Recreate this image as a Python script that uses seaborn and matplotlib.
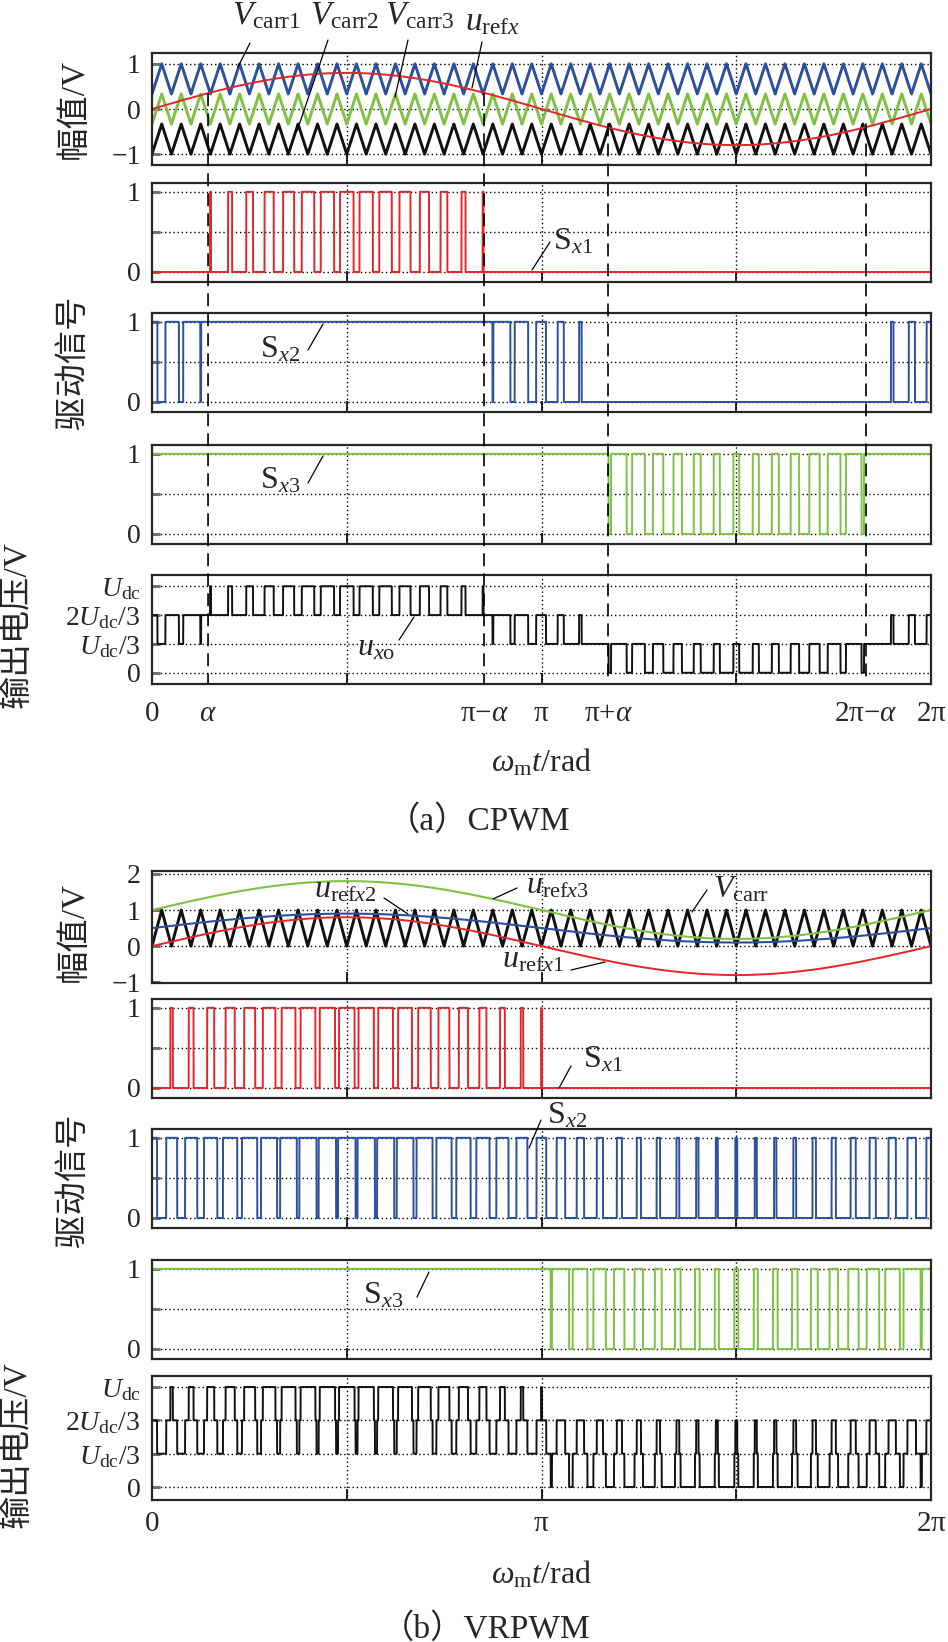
import numpy as np
import matplotlib
matplotlib.use("Agg")
import matplotlib.pyplot as plt
import seaborn as sns
from matplotlib.patches import ConnectionPatch
from matplotlib.lines import Line2D

# ---------------- data ----------------
carrier_periods = 40                      # carrier periods per fundamental period
ref_amplitude_a = 0.8                     # CPWM reference amplitude
carrier_bands_a = [(1/3, 1.0), (-1/3, 1/3), (-1.0, -1/3)]   # Vcarr1, Vcarr2, Vcarr3
ref_amplitudes_b = [0.8, 0.4, 0.8]        # urefx1, urefx2, urefx3
ref_offsets_b = [0.0, 0.5, 1.0]
carrier_band_b = (0.0, 1.0)               # Vcarr (VRPWM)

xtick_pos_a = [0.0, 0.452, 2.678, np.pi, 3.678, 5.759, 2 * np.pi]
xtick_labels_a = ["0", r"$\alpha$", r"$\mathrm{\pi}{-}\alpha$", r"$\mathrm{\pi}$",
                  r"$\mathrm{\pi}{+}\alpha$", r"$2\mathrm{\pi}{-}\alpha$", r"$2\mathrm{\pi}$"]
xtick_pos_b = [0.0, np.pi, 2 * np.pi]
xtick_labels_b = ["0", r"$\mathrm{\pi}$", r"$2\mathrm{\pi}$"]
dashed_pos_a = [0.452, 2.678, 3.678, 5.759]
dashed_start_a = [1/3, 1/3, -1/3, -1/3]

out_ticks = [0, 1/3, 2/3, 1]
out_labels = ["0", r"$U_{\mathrm{dc}}/3$", r"$2U_{\mathrm{dc}}/3$", r"$U_{\mathrm{dc}}$"]
sw_ticks = [0, 0.5, 1]
sw_labels = ["0", "", "1"]

RED, BLUE, GREEN, BLACK = "#e3262a", "#2c4f9e", "#7fc243", "#111111"

# ---------------- style ----------------
sns.set_theme(style="white")
plt.rcParams["font.family"] = ["Liberation Serif", "Noto Sans CJK SC", "DejaVu Sans"]
plt.rcParams["mathtext.fontset"] = "custom"
plt.rcParams["mathtext.rm"] = "Liberation Serif"
plt.rcParams["mathtext.it"] = "Liberation Serif:italic"
plt.rcParams["mathtext.bf"] = "Liberation Serif:bold"

W, H = 948, 1642
fig = plt.figure(figsize=(W / 100, H / 100), dpi=100)
fig.patch.set_facecolor("white")

def fxy(px, py):
    return px / W, 1 - py / H

def make_ax(top, bottom, left=152, right=931):
    return fig.add_axes([left / W, 1 - bottom / H, (right - left) / W, (bottom - top) / H])

t = np.linspace(0, 2 * np.pi, 30001)
frac = (t * carrier_periods / (2 * np.pi)) % 1.0
tri = 1 - 2 * np.abs(frac - 0.5)

def carrier(band):
    lo, hi = band
    return lo + (hi - lo) * tri

def line(ax, y, color, lw):
    sns.lineplot(x=t, y=y, ax=ax, color=color, linewidth=lw, estimator=None, sort=False)

def style_ax(ax, ylim, yticks, ylabels, grid_y):
    ax.set_xlim(0, 2 * np.pi)
    ax.set_ylim(*ylim)
    ax.set_xticks([np.pi / 2, np.pi, 3 * np.pi / 2])
    ax.set_xticklabels([])
    ax.set_yticks(yticks)
    ax.set_yticklabels(ylabels)
    ax.tick_params(axis="x", which="major", direction="in", length=8, width=1.2,
                   color="black", bottom=True, top=False)
    ax.tick_params(axis="y", direction="in", length=6, width=2.2, color="0.45",
                   left=True, right=False, labelsize=20, pad=8)
    for g in grid_y:
        ax.axhline(g, color="black", ls=(0, (1, 2)), lw=1.0, zorder=0.5)
    for g in [np.pi / 2, np.pi, 3 * np.pi / 2]:
        ax.axvline(g, color="black", ls=(0, (1, 2)), lw=1.0, zorder=0.5)
    for s in ax.spines.values():
        s.set_color("0.15")
        s.set_linewidth(1.6)
    ax.set_xlabel("")
    ax.set_ylabel("")

def bottom_labels(ax, pos, labels, pad):
    ax.xaxis.remove_overlapping_locs = False
    ax.set_xticks(pos, minor=True)
    ax.set_xticklabels(labels, minor=True)
    ax.tick_params(axis="x", which="minor", length=0, labelsize=21, pad=pad)

# ================= (a) CPWM =================
ref_a = ref_amplitude_a * np.sin(t)
carr_a = [carrier(b) for b in carrier_bands_a]
S1a = (ref_a > carr_a[0]).astype(float)
S2a = (ref_a > carr_a[1]).astype(float)
S3a = (ref_a > carr_a[2]).astype(float)
uxo_a = (S1a + S2a + S3a) / 3

a1 = make_ax(53, 165)
line(a1, carr_a[0], BLUE, 2.1)
line(a1, carr_a[1], GREEN, 2.1)
line(a1, carr_a[2], BLACK, 2.1)
line(a1, ref_a, RED, 1.4)
style_ax(a1, (-1.24, 1.24), [-1, 0, 1], ["−1", "0", "1"], [-1, 0, 1])

a2 = make_ax(183, 282)
line(a2, S1a, RED, 1.4)
style_ax(a2, (-0.125, 1.11), sw_ticks, sw_labels, sw_ticks)

a3 = make_ax(313, 412)
line(a3, S2a, BLUE, 1.4)
style_ax(a3, (-0.125, 1.11), sw_ticks, sw_labels, sw_ticks)

a4 = make_ax(445, 544)
line(a4, S3a, GREEN, 1.4)
style_ax(a4, (-0.125, 1.11), sw_ticks, sw_labels, sw_ticks)

a5 = make_ax(575, 684)
line(a5, uxo_a, BLACK, 1.4)
style_ax(a5, (-0.13, 1.13), out_ticks, out_labels, out_ticks)
bottom_labels(a5, xtick_pos_a, xtick_labels_a, 12)

for xp, ys in zip(dashed_pos_a, dashed_start_a):
    cp = ConnectionPatch(xyA=(xp, ys), coordsA=a1.transData,
                         xyB=(xp, a5.get_ylim()[0]), coordsB=a5.transData,
                         color="black", lw=1.2, linestyle=(0, (7, 5)), zorder=5)
    fig.add_artist(cp)

# ================= (b) VRPWM =================
refs_b = [o + a * np.sin(t) for a, o in zip(ref_amplitudes_b, ref_offsets_b)]
carr_b = carrier(carrier_band_b)
S1b = (refs_b[0] > carr_b).astype(float)
S2b = (refs_b[1] > carr_b).astype(float)
S3b = (refs_b[2] > carr_b).astype(float)
uxo_b = (S1b + S2b + S3b) / 3

b1 = make_ax(871, 983)
line(b1, carr_b, BLACK, 2.1)
line(b1, refs_b[2], GREEN, 1.5)
line(b1, refs_b[1], BLUE, 1.5)
line(b1, refs_b[0], RED, 1.4)
style_ax(b1, (-1.02, 2.08), [-1, 0, 1, 2], ["−1", "0", "1", "2"], [0, 1, 2])

b2 = make_ax(999, 1098)
line(b2, S1b, RED, 1.4)
style_ax(b2, (-0.125, 1.11), sw_ticks, sw_labels, sw_ticks)

b3 = make_ax(1129, 1228)
line(b3, S2b, BLUE, 1.4)
style_ax(b3, (-0.125, 1.11), sw_ticks, sw_labels, sw_ticks)

b4 = make_ax(1260, 1359)
line(b4, S3b, GREEN, 1.4)
style_ax(b4, (-0.125, 1.11), sw_ticks, sw_labels, sw_ticks)

b5 = make_ax(1376, 1500)
line(b5, uxo_b, BLACK, 1.4)
style_ax(b5, (-0.13, 1.11), out_ticks, out_labels, out_ticks)
bottom_labels(b5, xtick_pos_b, xtick_labels_b, 8)

# ---------------- y labels ----------------
ylabel_specs = [("幅值/V", 74, 109), ("驱动信号", 74, 362), ("输出电压/V", 17, 625),
                ("幅值/V", 74, 932), ("驱动信号", 74, 1180), ("输出电压/V", 17, 1445)]
for s, px, py in ylabel_specs:
    fig.text(*fxy(px, py), s, rotation=90, ha="center", va="center", fontsize=24)

# ---------------- x labels & captions ----------------
fig.text(*fxy(541, 772), r"$\omega_{\mathrm{m}}t/\mathrm{rad}$", ha="center", va="baseline", fontsize=23)
fig.text(*fxy(541, 1583), r"$\omega_{\mathrm{m}}t/\mathrm{rad}$", ha="center", va="baseline", fontsize=23)
fig.text(*fxy(479, 830), "（a）CPWM", ha="center", va="baseline", fontsize=24)
fig.text(*fxy(486, 1638), "（b）VRPWM", ha="center", va="baseline", fontsize=24)

# ---------------- annotations ----------------
annots = [
    (r"$V_{\mathrm{carr1}}$", 232, 24, (250, 43, 238, 67), 24),
    (r"$V_{\mathrm{carr2}}$", 310, 24, (328, 40, 297, 131), 24),
    (r"$V_{\mathrm{carr3}}$", 385, 24, (408, 40, 395, 97), 24),
    (r"$u_{\mathrm{ref}x}$", 465, 30, (482, 42, 472, 88), 24),
    (r"$\mathrm{S}_{x1}$", 553, 250, (550, 242, 532, 270), 23),
    (r"$\mathrm{S}_{x2}$", 260, 357, (308, 350, 323, 324), 23),
    (r"$\mathrm{S}_{x3}$", 260, 488, (308, 483, 323, 456), 23),
    (r"$u_{x\mathrm{o}}$", 357, 656, (399, 640, 414, 617), 23),
    (r"$u_{\mathrm{ref}x2}$", 314, 897, (384, 898, 408, 914), 23),
    (r"$u_{\mathrm{ref}x3}$", 526, 893, (517, 888, 493, 899), 23),
    (r"$V_{\mathrm{carr}}$", 713, 897, (707, 890, 692, 912), 23),
    (r"$u_{\mathrm{ref}x1}$", 502, 967, (571, 970, 605, 962), 23),
    (r"$\mathrm{S}_{x1}$", 583, 1067, (571, 1066, 559, 1088), 23),
    (r"$\mathrm{S}_{x2}$", 547, 1123, (541, 1120, 529, 1148), 23),
    (r"$\mathrm{S}_{x3}$", 363, 1303, (417, 1297, 429, 1272), 23),
]
for s, px, py, (x1, y1, x2, y2), fs in annots:
    fig.text(*fxy(px, py), s, ha="left", va="baseline", fontsize=fs, zorder=10)
    p1, p2 = fxy(x1, y1), fxy(x2, y2)
    fig.add_artist(Line2D([p1[0], p2[0]], [p1[1], p2[1]], color="black", lw=0.9,
                          transform=fig.transFigure, zorder=10))

fig.savefig("out.png", dpi=100, facecolor="white")
